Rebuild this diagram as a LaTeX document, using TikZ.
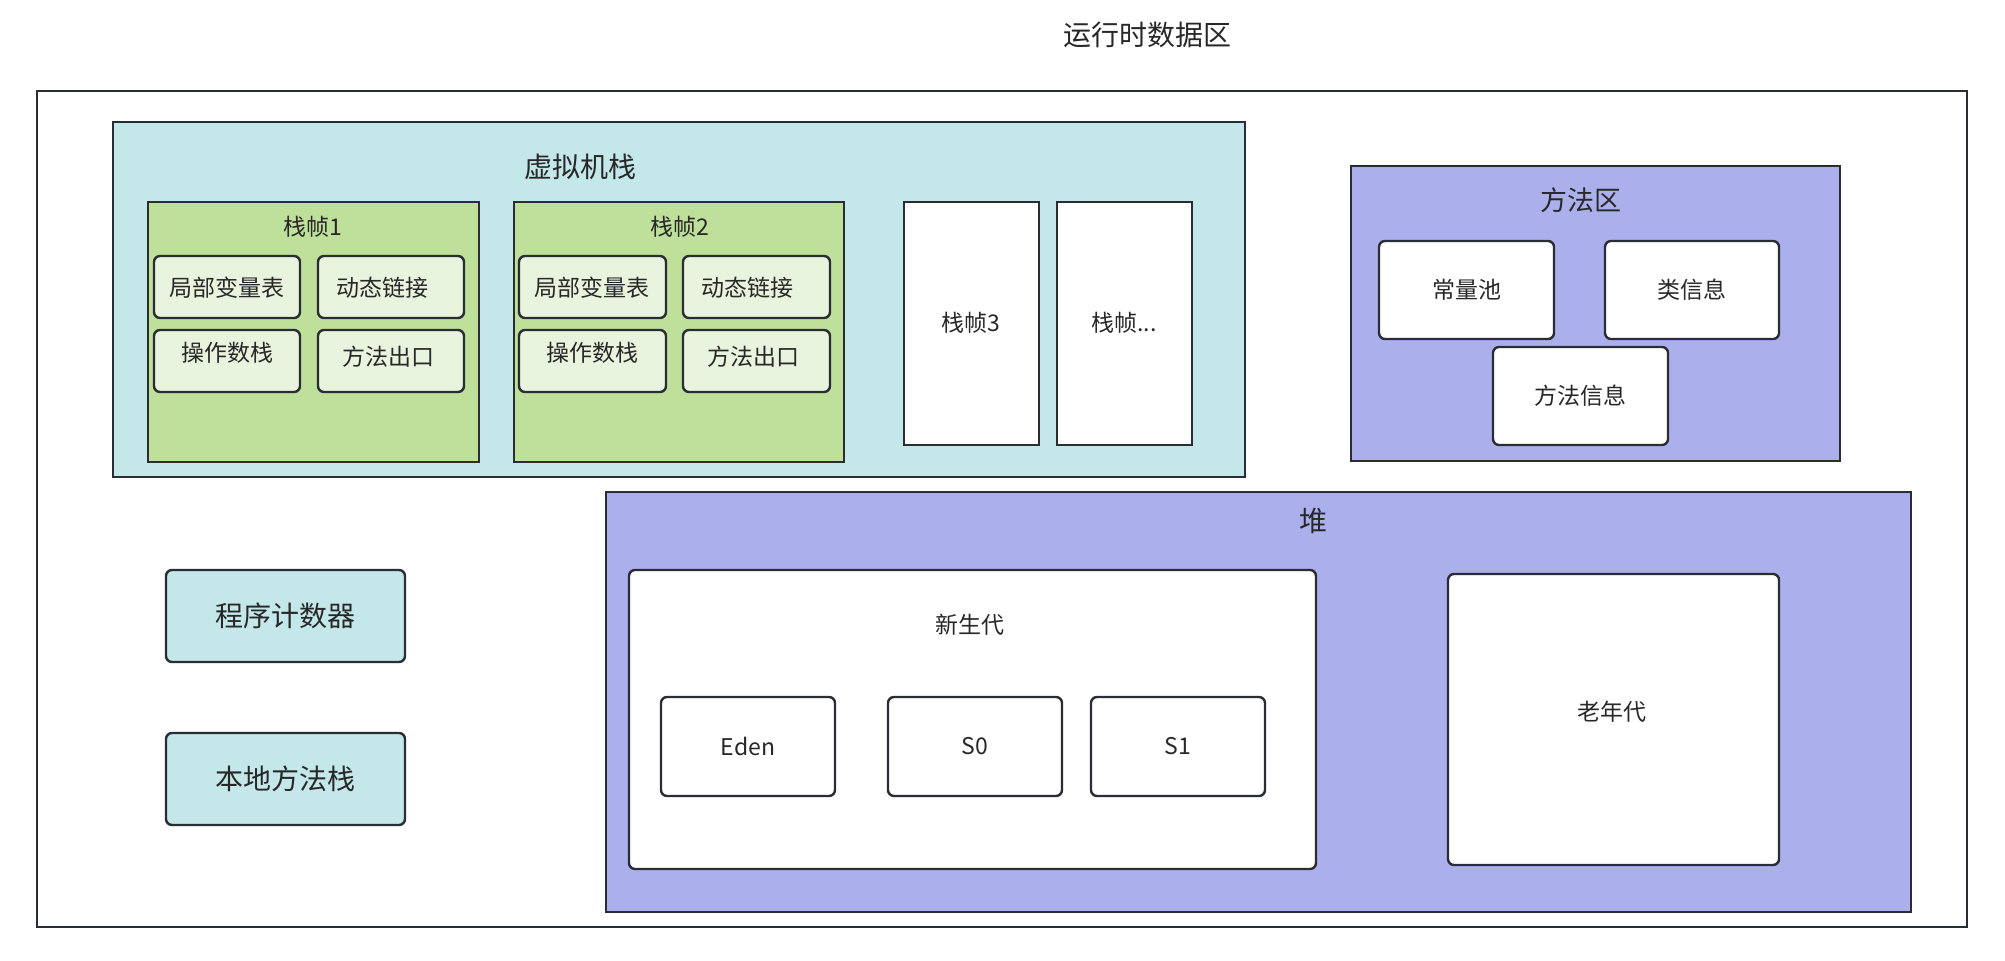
\documentclass[tikz,border=0pt]{standalone}
\usepackage{fontspec}
\setmainfont{Noto Sans CJK SC}
\usetikzlibrary{fit}
\definecolor{lc}{RGB}{42,45,51}
\definecolor{txt}{RGB}{40,40,40}
\definecolor{cyanf}{RGB}{196,231,233}
\definecolor{greenf}{RGB}{190,224,155}
\definecolor{lgreenf}{RGB}{232,244,221}
\definecolor{purplef}{RGB}{171,176,237}
\tikzset{
  panel/.style={draw=lc, line width=1pt, inner sep=0pt, outer sep=0pt},
  rbox/.style={draw=lc, line width=1.2pt, rounded corners=3pt, inner sep=0pt, outer sep=0pt},
  bigtxt/.style={text=txt, font=\fontsize{14}{16}\selectfont, inner sep=0pt},
  midtxt/.style={text=txt, font=\fontsize{11.5}{13}\selectfont, inner sep=0pt},
}
\begin{document}
\begin{tikzpicture}[x=0.5pt, y=-0.5pt]
\useasboundingbox[fill=white] (0,0) rectangle (2005,961);
\node[bigtxt] (title) at (1147,35) {运行时数据区};
\node[panel, fill=white, fit={(37,91) (1967,927)}] (outer) {};
% JVM stack
\node[panel, fill=cyanf, fit={(113,122) (1245,477)}] (vms) {};
\node[bigtxt] (vmsl) at (580,167) {虚拟机栈};
\node[panel, fill=greenf, fit={(148,202) (479,462)}] (f1) {};
\node[midtxt] (f1l) at (313,227) {栈帧1};
\node[rbox, fill=lgreenf, fit={(154,256) (300,318)}] (f1a) {};
\node[midtxt] (f1al) at (227,288) {局部变量表};
\node[rbox, fill=lgreenf, fit={(318,256) (464,318)}] (f1b) {};
\node[midtxt] (f1bl) at (382,288) {动态链接};
\node[rbox, fill=lgreenf, fit={(154,330) (300,392)}] (f1c) {};
\node[midtxt] (f1cl) at (227,353) {操作数栈};
\node[rbox, fill=lgreenf, fit={(318,330) (464,392)}] (f1d) {};
\node[midtxt] (f1dl) at (388,357) {方法出口};
\node[panel, fill=greenf, fit={(514,202) (844,462)}] (f2) {};
\node[midtxt] (f2l) at (680,227) {栈帧2};
\node[rbox, fill=lgreenf, fit={(519,256) (666,318)}] (f2a) {};
\node[midtxt] (f2al) at (592,288) {局部变量表};
\node[rbox, fill=lgreenf, fit={(683,256) (830,318)}] (f2b) {};
\node[midtxt] (f2bl) at (747,288) {动态链接};
\node[rbox, fill=lgreenf, fit={(519,330) (666,392)}] (f2c) {};
\node[midtxt] (f2cl) at (592,353) {操作数栈};
\node[rbox, fill=lgreenf, fit={(683,330) (830,392)}] (f2d) {};
\node[midtxt] (f2dl) at (753,357) {方法出口};
\node[panel, fill=white, fit={(904,202) (1039,445)}] (f3) {};
\node[midtxt] (f3l) at (971,323) {栈帧3};
\node[panel, fill=white, fit={(1057,202) (1192,445)}] (f4) {};
\node[midtxt] (f4l) at (1124,323) {栈帧...};
% method area
\node[panel, fill=purplef, fit={(1351,166) (1840,461)}] (ma) {};
\node[bigtxt, font=\fontsize{13.5}{15}\selectfont] (mal) at (1581,200) {方法区};
\node[rbox, fill=white, fit={(1379,241) (1554,339)}] (cp) {};
\node[midtxt] (cpl) at (cp) {常量池};
\node[rbox, fill=white, fit={(1605,241) (1779,339)}] (ci) {};
\node[midtxt] (cil) at (ci) {类信息};
\node[rbox, fill=white, fit={(1493,347) (1668,445)}] (mi) {};
\node[midtxt] (mil) at (mi) {方法信息};
% left boxes
\node[rbox, fill=cyanf, fit={(166,570) (405,662)}] (pc) {};
\node[bigtxt] (pcl) at (pc) {程序计数器};
\node[rbox, fill=cyanf, fit={(166,733) (405,825)}] (ns) {};
\node[bigtxt] (nsl) at (ns) {本地方法栈};
% heap
\node[panel, fill=purplef, fit={(606,492) (1911,912)}] (heap) {};
\node[bigtxt] (heapl) at (1313,521) {堆};
\node[rbox, fill=white, fit={(629,570) (1316,869)}] (young) {};
\node[midtxt] (youngl) at (970,625) {新生代};
\node[rbox, fill=white, fit={(661,697) (835,796)}] (eden) {};
\node[midtxt] (edenl) at (eden) {Eden};
\node[rbox, fill=white, fit={(888,697) (1062,796)}] (s0) {};
\node[midtxt] (s0l) at (s0) {S0};
\node[rbox, fill=white, fit={(1091,697) (1265,796)}] (s1) {};
\node[midtxt] (s1l) at (s1) {S1};
\node[rbox, fill=white, fit={(1448,574) (1779,865)}] (old) {};
\node[midtxt] (oldl) at (1612,712) {老年代};
\end{tikzpicture}
\end{document}
